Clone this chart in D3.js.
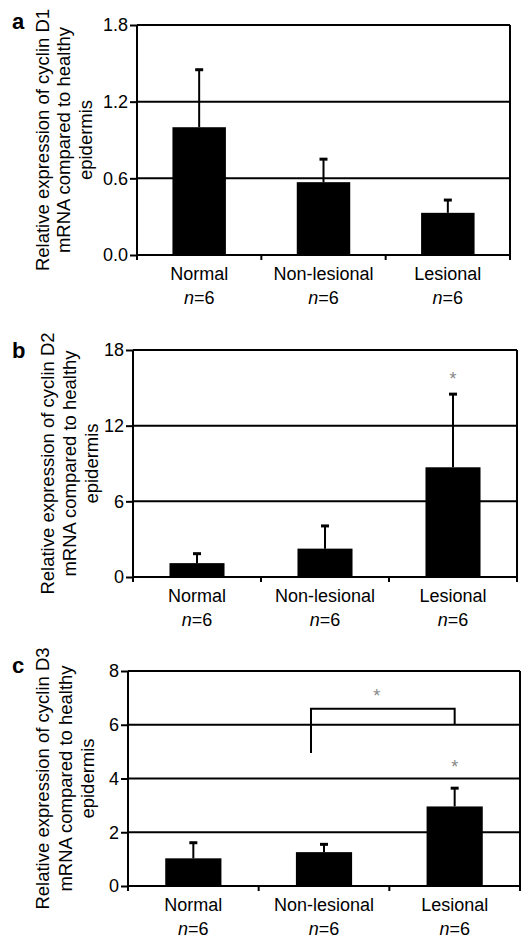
<!DOCTYPE html>
<html>
<head>
<meta charset="utf-8">
<script src="https://cdn.jsdelivr.net/npm/d3@7"></script>
<style>
  body { margin: 0; background: #fff; }
  svg { display: block; font-family: "Liberation Sans", Arial, sans-serif; }
</style>
</head>
<body>
<svg id="chart" width="529" height="938"></svg>
<script>
// data
const categories = ["Normal", "Non-lesional", "Lesional"];
const sampleSizes = [6, 6, 6];

const d1Values = [1.0, 0.57, 0.33];
const d1Errors = [0.45, 0.18, 0.10];
const d1Ticks = [0, 0.6, 1.2, 1.8];

const d2Values = [1.1, 2.25, 8.7];
const d2Errors = [0.75, 1.8, 5.8];
const d2Ticks = [0, 6, 12, 18];

const d3Values = [1.03, 1.26, 2.96];
const d3Errors = [0.58, 0.29, 0.68];
const d3Ticks = [0, 2, 4, 6, 8];

const panelLetters = ["a", "b", "c"];
const genes = ["D1", "D2", "D3"];

// significance marks: [category, value]
const d2Stars = [["Lesional", 15.9]];
const d3Stars = [["Lesional", 4.55], [null, 7.2]];
// bracket between Non-lesional and Lesional: left leg end, top, right leg end
const d3Bracket = [4.95, 6.6, 6.0];

const svg = d3.select("#chart");

const panels = [
  { values: d1Values, errors: d1Errors, ticks: d1Ticks, fmt: d3.format(".1f"),
    left: 137, right: 510, top: 25, bottom: 255, titleX: [-88, -67, -45], stars: [] },
  { values: d2Values, errors: d2Errors, ticks: d2Ticks, fmt: d3.format("d"),
    left: 133, right: 517, top: 350, bottom: 577, titleX: [-79, -57, -35], stars: d2Stars },
  { values: d3Values, errors: d3Errors, ticks: d3Ticks, fmt: d3.format("d"),
    left: 128, right: 520, top: 671, bottom: 886, titleX: [-79, -56, -34], stars: d3Stars,
    bracket: d3Bracket }
];

panels.forEach((p, i) => {
  const g = svg.append("g");

  const x = d3.scaleBand()
    .domain(categories)
    .range([p.left, p.right])
    .paddingInner(0.57)
    .paddingOuter(0.285);

  const y = d3.scaleLinear()
    .domain([0, d3.max(p.ticks)])
    .range([p.bottom, p.top]);

  const cx = (c) => x(c) + x.bandwidth() / 2;

  // gridlines (top one closes the frame)
  g.selectAll(".grid")
    .data(p.ticks.filter((t) => t > 0))
    .enter()
    .append("line")
    .attr("x1", p.left)
    .attr("x2", p.right)
    .attr("y1", (d) => y(d))
    .attr("y2", (d) => y(d))
    .attr("stroke", "#000")
    .attr("stroke-width", 2);

  // right border
  g.append("line")
    .attr("x1", p.right).attr("x2", p.right)
    .attr("y1", p.top).attr("y2", p.bottom)
    .attr("stroke", "#000").attr("stroke-width", 2);

  // bars
  g.selectAll(".bar")
    .data(p.values)
    .enter()
    .append("rect")
    .attr("x", (d, j) => x(categories[j]))
    .attr("y", (d) => y(d))
    .attr("width", x.bandwidth())
    .attr("height", (d) => y(0) - y(d))
    .attr("fill", "#000");

  // error bars (upper half only)
  const err = g.selectAll(".err")
    .data(p.values)
    .enter()
    .append("g");
  err.append("line")
    .attr("x1", (d, j) => cx(categories[j]))
    .attr("x2", (d, j) => cx(categories[j]))
    .attr("y1", (d) => y(d))
    .attr("y2", (d, j) => y(d + p.errors[j]))
    .attr("stroke", "#000")
    .attr("stroke-width", 2);
  err.append("line")
    .attr("x1", (d, j) => cx(categories[j]) - 4)
    .attr("x2", (d, j) => cx(categories[j]) + 4)
    .attr("y1", (d, j) => y(d + p.errors[j]))
    .attr("y2", (d, j) => y(d + p.errors[j]))
    .attr("stroke", "#000")
    .attr("stroke-width", 3);

  // y axis
  const yAxis = g.append("g")
    .attr("transform", `translate(${p.left},0)`)
    .call(d3.axisLeft(y).tickValues(p.ticks).tickFormat(p.fmt).tickSize(7).tickPadding(2));
  yAxis.select(".domain").attr("stroke-width", 2).attr("d", `M0,${p.top}V${p.bottom}`);
  yAxis.selectAll(".tick line").attr("stroke-width", 2);
  yAxis.selectAll(".tick text")
    .attr("font-size", 18)
    .attr("font-family", "Liberation Sans, Arial, sans-serif")
    .attr("fill", "#000");

  // x axis with ticks at category boundaries
  const step = x.step();
  const bounds = d3.range(categories.length + 1).map((k) => p.left + k * step);
  g.append("line")
    .attr("x1", p.left).attr("x2", p.right)
    .attr("y1", p.bottom).attr("y2", p.bottom)
    .attr("stroke", "#000").attr("stroke-width", 2);
  g.selectAll(".xtick")
    .data(bounds)
    .enter()
    .append("line")
    .attr("x1", (d) => d).attr("x2", (d) => d)
    .attr("y1", p.bottom).attr("y2", p.bottom + 5)
    .attr("stroke", "#000").attr("stroke-width", 2);

  // category labels
  g.selectAll(".cat")
    .data(categories)
    .enter()
    .append("text")
    .attr("x", (d) => cx(d))
    .attr("y", p.bottom + 25)
    .attr("text-anchor", "middle")
    .attr("font-size", 18)
    .text((d) => d);

  const nLab = g.selectAll(".n")
    .data(categories)
    .enter()
    .append("text")
    .attr("x", (d) => cx(d))
    .attr("y", p.bottom + 49)
    .attr("text-anchor", "middle")
    .attr("font-size", 18);
  nLab.append("tspan").attr("font-style", "italic").text("n");
  nLab.append("tspan").text((d, j) => "=" + sampleSizes[j]);

  // y title
  const midY = (p.top + p.bottom) / 2;
  const titleLines = [
    "Relative expression of cyclin " + genes[i],
    "mRNA compared to healthy",
    "epidermis"
  ];
  titleLines.forEach((t, k) => {
    g.append("text")
      .attr("transform", `translate(${p.left + p.titleX[k]},${midY}) rotate(-90)`)
      .attr("text-anchor", "middle")
      .attr("font-size", 18.5)
      .text(t);
  });

  // panel letter
  g.append("text")
    .attr("x", 12)
    .attr("y", p.top + [4, 8, 2][i])
    .attr("font-size", 22)
    .attr("font-weight", "bold")
    .text(panelLetters[i]);

  // bracket
  if (p.bracket) {
    const xl = cx("Non-lesional") - 13;
    const xr = cx("Lesional");
    g.append("path")
      .attr("d", `M${xl},${y(p.bracket[0])}V${y(p.bracket[1])}H${xr}V${y(p.bracket[2])}`)
      .attr("fill", "none")
      .attr("stroke", "#000")
      .attr("stroke-width", 2);
  }

  // asterisks
  p.stars.forEach(([cat, v]) => {
    const sx = cat ? cx(cat) : (cx("Non-lesional") - 13 + cx("Lesional")) / 2 - 6;
    g.append("text")
      .attr("x", sx)
      .attr("y", y(v) + 9)
      .attr("text-anchor", "middle")
      .attr("font-size", 18)
      .attr("fill", "#888")
      .text("*");
  });
});
</script>
</body>
</html>
